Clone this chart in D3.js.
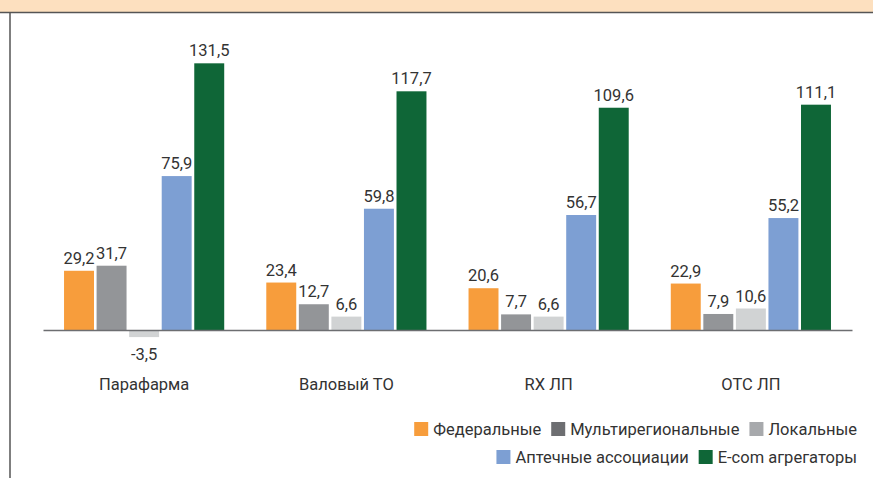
<!DOCTYPE html>
<html>
<head>
<meta charset="utf-8">
<script src="https://cdn.jsdelivr.net/npm/d3@7"></script>
<style>
  body { margin: 0; background: #fff; }
  svg { display: block; font-family: Roboto, "Noto Sans", sans-serif; }
  .val { font-size: 16.5px; fill: #333; }
  .cat { font-size: 16.5px; fill: #333; }
  .leg { font-size: 16.5px; fill: #333; }
</style>
</head>
<body>
<div id="chart"></div>
<script>
// данные
const categories = ["Парафарма", "Валовый ТО", "RX ЛП", "ОТС ЛП"];
const seriesNames = ["Федеральные", "Мультирегиональные", "Локальные", "Аптечные ассоциации", "E-com агрегаторы"];
const federal   = [29.2, 23.4, 20.6, 22.9];
const multireg  = [31.7, 12.7, 7.7, 7.9];
const local     = [-3.5, 6.6, 6.6, 10.6];
const assoc     = [75.9, 59.8, 56.7, 55.2];
const ecom      = [131.5, 117.7, 109.6, 111.1];
const seriesValues = [federal, multireg, local, assoc, ecom];

const barColors = ["#f79d3c", "#939598", "#d1d3d4", "#7d9fd3", "#0f6637"];
const legendColors = ["#f79d3c", "#6d6e71", "#a7a9ac", "#7d9fd3", "#0f6637"];

const W = 873, H = 478;

const svg = d3.select("#chart").append("svg")
    .attr("width", W)
    .attr("height", H);

// рамка и верхняя плашка
svg.append("rect").attr("x", 0).attr("y", 0).attr("width", W).attr("height", 12.5).attr("fill", "#fde0bf");
svg.append("line").attr("x1", 0).attr("x2", W).attr("y1", 12.5).attr("y2", 12.5)
    .attr("stroke", "#555").attr("stroke-width", 1.5);
svg.append("line").attr("x1", 10).attr("x2", 10).attr("y1", 12.5).attr("y2", H)
    .attr("stroke", "#555").attr("stroke-width", 1.5);

// шкалы
const x0 = d3.scaleBand().domain(categories).range([43, 852]).padding(0);
const x1 = d3.scaleBand().domain(seriesNames)
    .range([x0.bandwidth() * 0.104, x0.bandwidth() * 0.896])
    .paddingInner(0.08);
const y = d3.scaleLinear().domain([0, 140]).range([330, 330 - 140 * 2.028]);

const rows = categories.map((c, i) => ({
    cat: c,
    vals: seriesNames.map((s, j) => ({ key: s, idx: j, value: seriesValues[j][i] }))
}));

const groups = svg.append("g").selectAll("g")
    .data(rows)
    .join("g")
    .attr("transform", d => `translate(${x0(d.cat)},0)`);

groups.selectAll("rect")
    .data(d => d.vals)
    .join("rect")
    .attr("x", d => x1(d.key))
    .attr("width", x1.bandwidth())
    .attr("y", d => y(Math.max(0, d.value)))
    .attr("height", d => Math.abs(y(d.value) - y(0)))
    .attr("fill", d => barColors[d.idx]);

groups.selectAll("text")
    .data(d => d.vals)
    .join("text")
    .attr("class", "val")
    .attr("x", d => x1(d.key) + x1.bandwidth() / 2)
    .attr("y", d => d.value >= 0 ? y(d.value) - 7 : y(d.value) + 23)
    .attr("text-anchor", "middle")
    .text(d => String(d.value).replace(".", ","));

// ось X
const xAxis = svg.append("g")
    .attr("transform", `translate(0,${y(0)})`)
    .call(d3.axisBottom(x0).tickSize(0).tickPadding(0));
xAxis.select(".domain").attr("stroke", "#6d6e71").attr("stroke-width", 1.5);
xAxis.selectAll(".tick text")
    .attr("class", "cat")
    .attr("dy", null)
    .attr("y", 60)
    .attr("fill", null);
xAxis.attr("font-family", null).attr("font-size", null);

// легенда
const legendRows = [[0, 1, 2], [3, 4]];
const legendY = [429, 457];
legendRows.forEach((row, r) => {
    const g = svg.append("g");
    let cx = 0;
    row.forEach(idx => {
        const item = g.append("g").attr("transform", `translate(${cx},0)`);
        item.append("rect").attr("x", 0).attr("y", -7).attr("width", 14).attr("height", 14)
            .attr("fill", legendColors[idx]);
        const t = item.append("text").attr("class", "leg").attr("x", 19).attr("y", 6)
            .text(seriesNames[idx]);
        cx += 19 + t.node().getComputedTextLength() + 10;
    });
    const total = cx - 10;
    g.attr("transform", `translate(${857 - total},${legendY[r]})`);
});
</script>
</body>
</html>
